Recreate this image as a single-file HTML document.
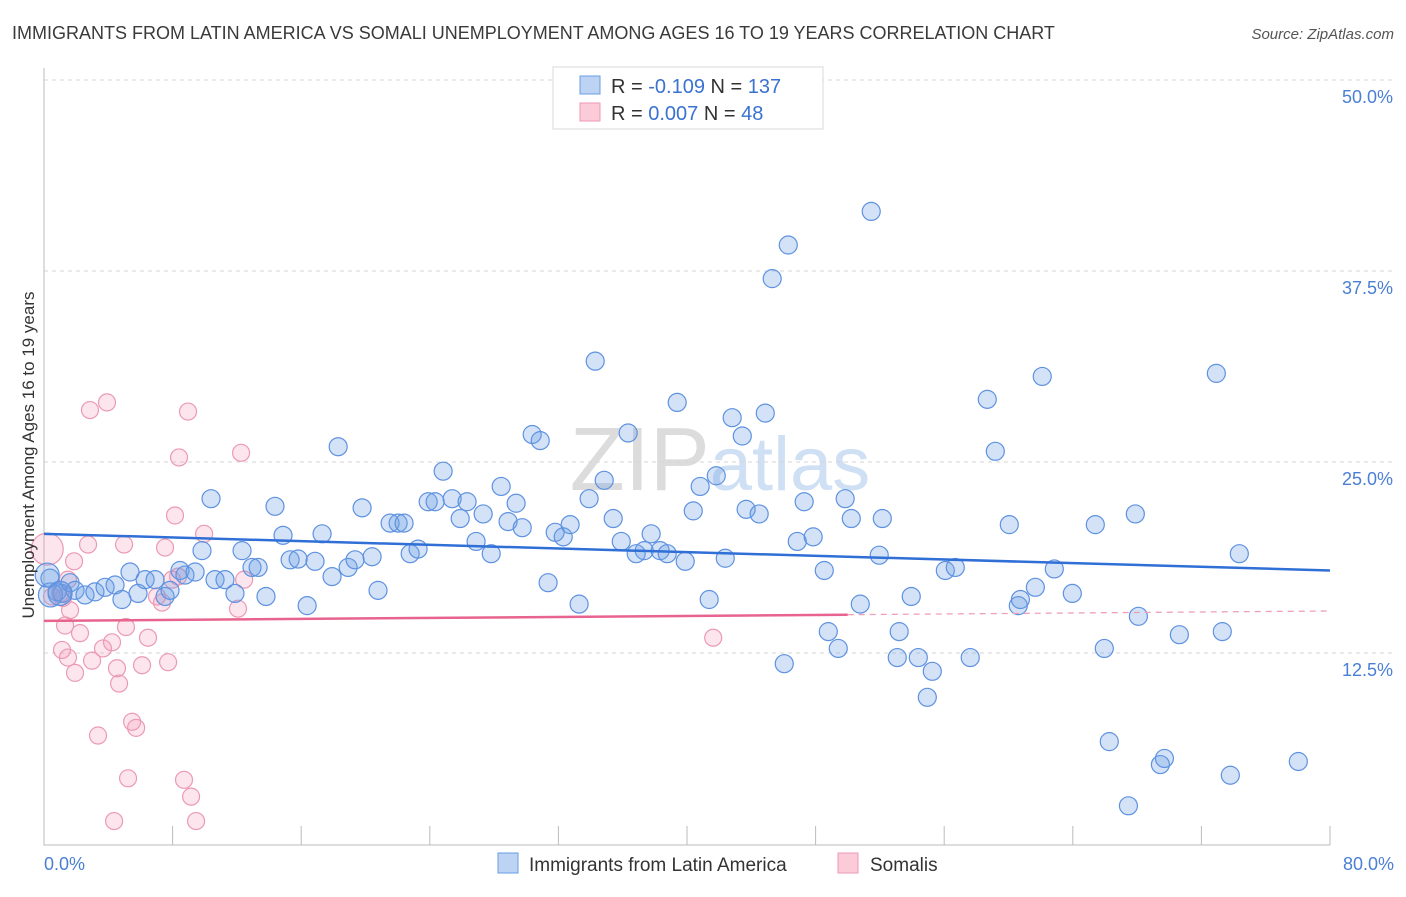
<!DOCTYPE html>
<html><head><meta charset="utf-8"><style>
body{margin:0;background:#fff;font-family:"Liberation Sans",sans-serif;}
svg text{font-family:"Liberation Sans",sans-serif;}
</style></head><body>
<svg id="chart" width="1406" height="892">
<text x="12" y="39" font-size="18" fill="#3a3a3a">IMMIGRANTS FROM LATIN AMERICA VS SOMALI UNEMPLOYMENT AMONG AGES 16 TO 19 YEARS CORRELATION CHART</text>
<text x="1394" y="39" font-size="15" fill="#555" text-anchor="end" font-style="italic">Source: ZipAtlas.com</text>
<text x="720" y="490" font-size="90" fill="#e6e6e6" text-anchor="middle" font-family="Liberation Serif"><tspan fill="#dcdcdc">ZIP</tspan><tspan fill="#cfe0f4" font-family="Liberation Sans" font-size="76">atlas</tspan></text>
<g id="grid"></g>
<g id="axes"></g>
<g id="pink"></g>
<g id="blue"></g>
<g id="lines"></g>
<text transform="translate(34,455) rotate(-90)" font-size="17" fill="#333" text-anchor="middle">Unemployment Among Ages 16 to 19 years</text>
<text x="44" y="870" font-size="18" fill="#4a7fd4">0.0%</text>
<text x="1394" y="870" font-size="18" fill="#4a7fd4" text-anchor="end">80.0%</text>
<g>
<rect x="553" y="67" width="270" height="62" fill="#fff" stroke="#d8d8d8"/>
<rect x="580" y="76" width="20" height="18" fill="#bcd3f3" stroke="#6a9ce4"/>
<rect x="580" y="103" width="20" height="18" fill="#fbcbd9" stroke="#ee9ab5"/>
<text x="611" y="93" font-size="20" fill="#333">R = <tspan fill="#3a72d0">-0.109</tspan>   N = <tspan fill="#3a72d0">137</tspan></text>
<text x="611" y="120" font-size="20" fill="#333">R =  <tspan fill="#3a72d0">0.007</tspan>   N =  <tspan fill="#3a72d0">48</tspan></text>
</g>
<g>
<rect x="498" y="853" width="20" height="20" fill="#bcd3f3" stroke="#6a9ce4"/>
<text x="529" y="871" font-size="19" fill="#333">Immigrants from Latin America</text>
<rect x="838" y="853" width="20" height="20" fill="#fbcbd9" stroke="#ee9ab5"/>
<text x="870" y="871" font-size="19" fill="#333">Somalis</text>
</g>
</svg>
<script>
const yTicks=[12.5,25,37.5,50];
const yTickLabels=["12.5%","25.0%","37.5%","50.0%"];
const xTicks=[8,16,24,32,40,48,56,64,72,80];
const blueX=[0.37,0.81,1.12,1.62,1.93,2.55,3.17,3.8,4.42,4.85,5.35,5.85,6.29,6.91,7.53,7.84,8.46,8.77,9.4,9.83,10.39,10.64,11.26,11.88,12.32,12.94,13.32,13.81,14.37,14.87,15.31,15.81,16.37,16.86,17.3,17.92,18.3,18.92,19.35,19.79,20.41,20.78,21.53,22.03,22.4,22.78,23.27,23.9,24.33,24.83,25.39,25.89,26.32,26.88,27.32,27.82,28.44,28.87,29.37,29.75,30.37,30.87,31.36,31.8,32.3,32.73,33.29,33.91,34.29,34.85,35.41,35.91,36.34,36.84,37.34,37.77,38.33,38.77,39.39,39.89,40.39,40.82,41.38,41.82,42.38,42.81,43.44,43.68,44.49,44.87,45.3,46.05,46.3,46.86,47.29,47.85,48.54,48.79,49.41,49.84,50.22,50.78,51.46,51.96,52.15,53.08,53.2,53.95,54.39,54.95,55.26,56.07,56.69,57.62,58.68,59.18,60.05,60.61,60.74,61.67,62.1,62.85,63.97,65.4,65.96,66.27,67.46,67.89,68.08,69.45,69.7,70.63,72.93,73.3,73.8,74.36,78.03];
const blueY=[17.4,16.5,16.4,17.1,16.6,16.3,16.5,16.8,16.95,16.0,17.8,16.4,17.3,17.3,16.2,16.6,17.9,17.6,17.8,19.2,22.6,17.3,17.3,16.4,19.2,18.1,18.1,16.2,22.1,20.2,18.6,18.65,15.6,18.5,20.3,17.5,26.0,18.1,18.6,22.0,18.8,16.6,21.0,21.0,21.0,19.0,19.3,22.4,22.4,24.4,22.6,21.3,22.4,19.8,21.6,19.0,23.4,21.1,22.3,20.7,26.8,26.4,17.1,20.4,20.1,20.9,15.7,22.6,31.6,23.8,21.3,19.8,26.9,19.0,19.2,20.3,19.2,19.0,28.9,18.5,21.8,23.4,16.0,24.1,18.7,27.9,26.7,21.9,21.6,28.2,37.0,11.8,39.2,19.8,22.4,20.1,17.9,13.9,12.8,22.6,21.3,15.7,41.4,18.9,21.3,12.2,13.9,16.2,12.2,9.6,11.3,17.9,18.1,12.2,29.1,25.7,20.9,15.6,16.0,16.8,30.6,18.0,16.4,20.9,12.8,6.7,2.5,21.6,14.9,5.2,5.6,13.7,30.8,13.9,4.5,19.0,5.4];
const pinkX=[1.0,1.18,1.49,1.87,1.62,1.31,1.12,1.49,1.93,2.24,2.74,2.86,2.99,3.36,3.67,3.92,4.23,4.54,4.67,4.98,5.1,5.23,5.48,5.73,6.1,6.47,7.03,7.34,7.53,7.72,7.97,8.15,8.34,8.4,8.71,8.96,9.15,9.46,9.96,4.36,12.07,12.26,12.45,41.63,0.5];
const pinkY=[16.4,16.1,17.3,18.5,15.3,14.3,12.7,12.2,11.2,13.8,19.6,28.4,12.0,7.1,12.8,28.9,13.2,11.5,10.5,19.6,14.2,4.3,8.0,7.6,11.7,13.5,16.2,15.8,19.4,11.9,17.3,21.5,17.5,25.3,4.2,28.3,3.1,1.5,20.3,1.5,15.4,25.6,17.3,13.5,16.2];
const bigBlueX=[0.4,0.2,1.0];const bigBlueY=[16.3,17.6,16.4];
const bigPinkX=[0.2];const bigPinkY=[19.3];
const blueTrend=[20.3,17.9];
const pinkTrend=[14.6,15.25];
const pinkSolidEnd=50;
const NS="http://www.w3.org/2000/svg";
const X=v=>44+v*16.075;
const Y=v=>844-v*15.28;
function mk(t,a,p){const e=document.createElementNS(NS,t);for(const k in a)e.setAttribute(k,a[k]);p.appendChild(e);return e;}
const grid=document.getElementById('grid'),axes=document.getElementById('axes');
yTicks.forEach((t,i)=>{
 const l=mk('line',{x1:44,x2:1393,y1:Y(t),y2:Y(t),stroke:'#d6d6d6','stroke-dasharray':'4,4'},grid);
 
 
 const tx=mk('text',{x:1393,y:Y(t)+23,'font-size':18,fill:'#4a7fd4','text-anchor':'end'},grid);
 tx.textContent=yTickLabels[i];
 
 
});
const ax=mk('path',{d:'M44,68 V845 H1330',stroke:'#bbb',fill:'none'},axes);


xTicks.forEach(t=>{
 const l=mk('line',{x1:X(t),x2:X(t),y1:826,y2:845,stroke:'#bbb'},axes);
 
 
});
const pg=document.getElementById('pink'),bg=document.getElementById('blue');
pinkX.forEach((x,i)=>{
 const c=mk('circle',{cx:X(x),cy:Y(pinkY[i]),r:8.5,fill:'rgba(242,150,180,0.25)',stroke:'#ec9ab4','stroke-width':1.2},pg);
 
 
});
bigPinkX.forEach((x,i)=>{
 const c=mk('circle',{cx:X(x),cy:Y(bigPinkY[i]),r:16,fill:'rgba(242,150,180,0.25)',stroke:'#ec9ab4','stroke-width':1.2},pg);
 
 
});
blueX.forEach((x,i)=>{
 const c=mk('circle',{cx:X(x),cy:Y(blueY[i]),r:9,fill:'rgba(110,160,230,0.3)',stroke:'#5e92e0','stroke-width':1.2},bg);
 
 
});
bigBlueX.forEach((x,i)=>{
 const c=mk('circle',{cx:X(x),cy:Y(bigBlueY[i]),r:12,fill:'rgba(110,160,230,0.3)',stroke:'#5e92e0','stroke-width':1.2},bg);
 
 
});
const lg=document.getElementById('lines');
const bl=mk('line',{x1:X(0),x2:X(80),y1:Y(blueTrend[0]),y2:Y(blueTrend[1]),stroke:'#2f6fd6','stroke-width':2.5},lg);


const py=v=>pinkTrend[0]+(pinkTrend[1]-pinkTrend[0])*v/80;
const pl=mk('line',{x1:X(0),x2:X(pinkSolidEnd),y1:Y(py(0)),y2:Y(py(pinkSolidEnd)),stroke:'#e8638e','stroke-width':2.5},lg);


const pd=mk('line',{x1:X(pinkSolidEnd),x2:X(80),y1:Y(py(pinkSolidEnd)),y2:Y(py(80)),stroke:'#eea0b8','stroke-width':1.3,'stroke-dasharray':'6,5'},lg);


</script>
</body></html>
